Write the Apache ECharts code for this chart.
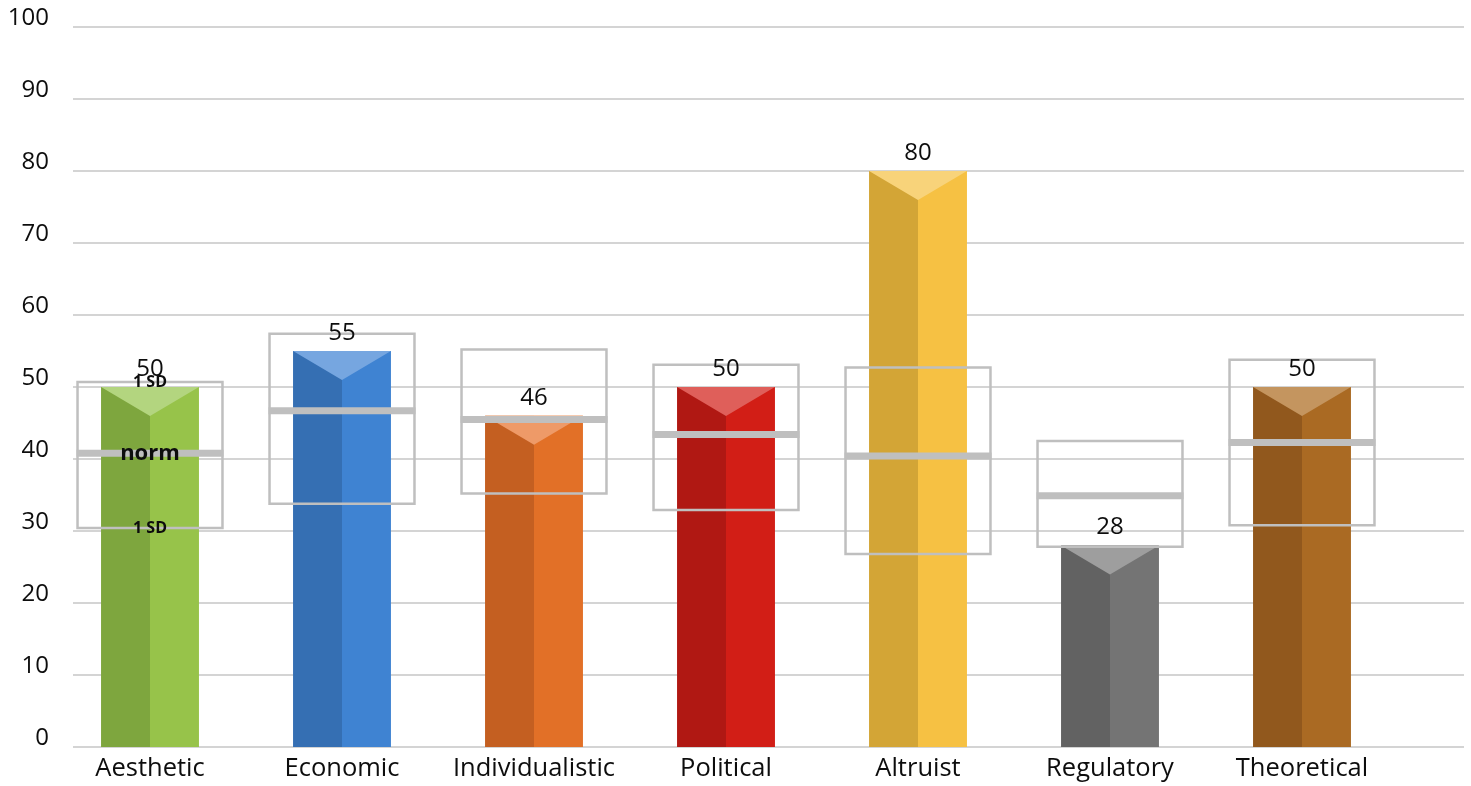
<!DOCTYPE html>
<html>
<head>
<meta charset="utf-8">
<script src="https://cdn.jsdelivr.net/npm/echarts@6/dist/echarts.min.js"></script>
<style>html,body{margin:0;padding:0;background:#fff;}#chart{width:1471px;height:786px;}</style>
</head>
<body>
<div id="chart"></div>
<script>
const categories = ['Aesthetic', 'Economic', 'Individualistic', 'Political', 'Altruist', 'Regulatory', 'Theoretical'];
const scores = [50, 55, 46, 50, 80, 28, 50];
const normMean = [40.8, 46.7, 45.5, 43.4, 40.4, 34.9, 42.3];
const sdUpper = [50.7, 57.4, 55.2, 53.1, 52.7, 42.5, 53.8];
const sdLower = [30.4, 33.8, 35.2, 32.9, 26.8, 27.8, 30.8];
const yMin = 0, yMax = 100, yStep = 10;

const leftColors = ['#7EA63E', '#356FB3', '#C45F21', '#B01813', '#D3A536', '#626262', '#91581D'];
const rightColors = ['#97C34A', '#3F83D2', '#E27027', '#D21E16', '#F6C143', '#747474', '#AA6A23'];
const topColors = ['#B3D57F', '#76A6E0', '#EE9A68', '#DF5F5A', '#F8D37A', '#9E9E9E', '#C4955F'];

const FONT = '"Open Sans", "Noto Sans", sans-serif';
const chart = echarts.init(document.getElementById('chart'), null, {renderer: 'canvas'});

function barItem(params, api) {
  const i = api.value(0), v = api.value(1);
  const top = api.coord([i, v]);
  const base = api.coord([i, 0]);
  const band = api.size([1, 0])[0];
  const w = band * 0.51;
  const x0 = top[0] - w / 2, xc = top[0], x1 = top[0] + w / 2;
  const d = 29;
  const h = base[1] - top[1];
  return {
    type: 'group',
    children: [
      {type: 'rect', shape: {x: x0, y: top[1], width: w / 2, height: h}, style: {fill: leftColors[i]}},
      {type: 'rect', shape: {x: xc, y: top[1], width: w / 2, height: h}, style: {fill: rightColors[i]}},
      {type: 'polygon', shape: {points: [[x0, top[1]], [x1, top[1]], [xc, top[1] + d]]}, style: {fill: topColors[i]}}
    ]
  };
}

function boxItem(params, api) {
  const i = api.value(0);
  const up = api.coord([i, api.value(1)]);
  const mid = api.coord([i, api.value(2)]);
  const lo = api.coord([i, api.value(3)]);
  const band = api.size([1, 0])[0];
  const w = band * 0.755;
  const x0 = up[0] - w / 2;
  return {
    type: 'group',
    children: [
      {type: 'rect', shape: {x: x0, y: up[1], width: w, height: lo[1] - up[1]},
       style: {fill: 'none', stroke: '#BFBFBF', lineWidth: 2.5}},
      {type: 'rect', shape: {x: x0 - 1, y: mid[1] - 3.5, width: w + 2, height: 7},
       style: {fill: '#BFBFBF'}}
    ]
  };
}

function labelItem(params, api) {
  const i = api.value(0), v = api.value(1);
  const top = api.coord([i, v]);
  return {
    type: 'text',
    style: {text: String(v), x: top[0], y: top[1] - 18, align: 'center', verticalAlign: 'middle',
            font: '24px ' + FONT, fill: '#0D0D0D'}
  };
}

function keyItem(params, api) {
  const i = api.value(0);
  const up = api.coord([i, api.value(1)]);
  const mid = api.coord([i, api.value(2)]);
  const lo = api.coord([i, api.value(3)]);
  const mk = (t, p, size) => ({type: 'text', style: {text: t, x: p[0], y: p[1], align: 'center',
      verticalAlign: 'middle', font: 'bold ' + size + 'px ' + FONT, fill: '#0D0D0D'}});
  return {type: 'group', children: [mk('1 SD', up, 16), mk('norm', mid, 22), mk('1 SD', lo, 16)]};
}

const option = {
  animation: false,
  backgroundColor: '#ffffff',
  grid: [
    {left: 73, right: 7, top: 27, bottom: 39},
    {left: 54, right: 73, top: 27, bottom: 39}
  ],
  xAxis: [
    {gridIndex: 0, type: 'value', min: 0, max: 1, show: false},
    {gridIndex: 1, type: 'category', data: categories,
     axisLine: {show: false}, axisTick: {show: false}, splitLine: {show: false},
     axisLabel: {interval: 0, margin: 9, fontSize: 25.5, fontFamily: FONT, color: '#0D0D0D'}}
  ],
  yAxis: [
    {gridIndex: 0, type: 'value', min: yMin, max: yMax, interval: yStep,
     axisLine: {show: false}, axisTick: {show: false},
     splitLine: {show: true, lineStyle: {color: '#D4D4D4', width: 2}},
     axisLabel: {margin: 24, fontSize: 24, fontFamily: FONT, color: '#0D0D0D',
                 verticalAlign: 'bottom', lineHeight: 18}},
    {gridIndex: 1, type: 'value', min: yMin, max: yMax, interval: yStep, show: false}
  ],
  series: [
    {type: 'custom', xAxisIndex: 1, yAxisIndex: 1, z: 2, renderItem: barItem,
     data: scores.map((v, i) => [i, v])},
    {type: 'custom', xAxisIndex: 1, yAxisIndex: 1, z: 3, renderItem: boxItem,
     data: normMean.map((m, i) => [i, sdUpper[i], m, sdLower[i]])},
    {type: 'custom', xAxisIndex: 1, yAxisIndex: 1, z: 4, renderItem: labelItem,
     data: scores.map((v, i) => [i, v])},
    {type: 'custom', xAxisIndex: 1, yAxisIndex: 1, z: 5, renderItem: keyItem,
     data: [[0, sdUpper[0], normMean[0], sdLower[0]]]}
  ]
};
chart.setOption(option);
</script>
</body>
</html>
